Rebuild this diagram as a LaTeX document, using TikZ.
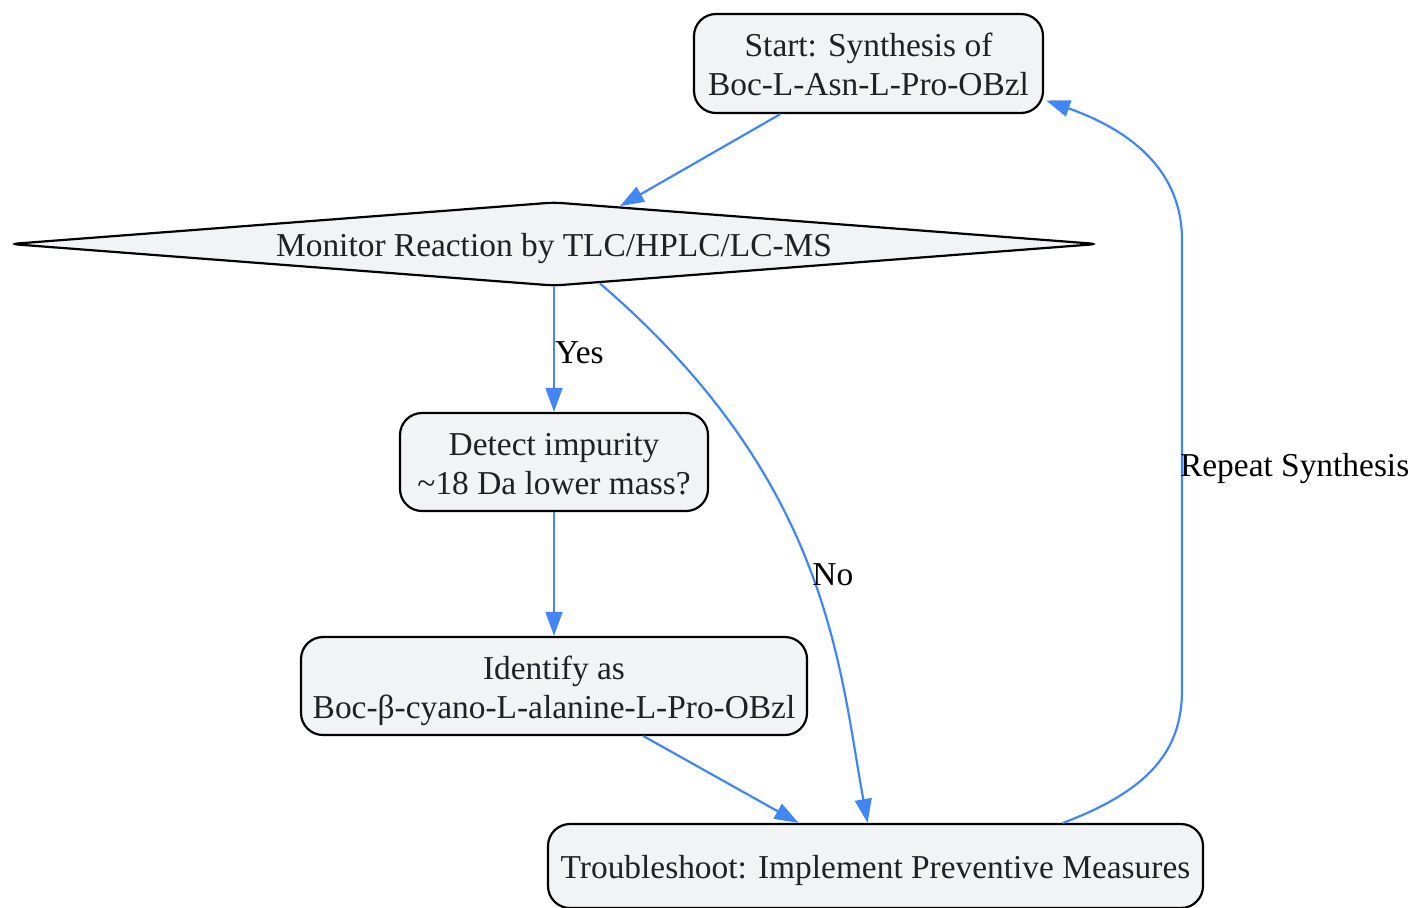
\documentclass[tikz,border=0pt]{standalone}
\usepackage{fontspec}
\setmainfont{Liberation Serif}
\usetikzlibrary{shapes.geometric,arrows.meta,calc}
\definecolor{nodefill}{HTML}{F1F3F4}
\definecolor{nodetext}{HTML}{202124}
\definecolor{edgeblue}{HTML}{4285F4}
\newcommand{\topstrut}{\rule{0pt}{17pt}}
\newcommand{\botstrut}{\rule[-4.5pt]{0pt}{4.5pt}}

\tikzstyle{stepbox}=[rectangle,
                     draw,
                     rounded corners=11pt,
                     fill=nodefill,
                     text=nodetext,
                     line width=1.1pt,
                     inner sep=0pt,
                     align=center,
                     font=\fontsize{16.7}{19.5}\selectfont]
\tikzstyle{checkbox}=[diamond,
                      draw,
                      aspect=13,
                      rounded corners=4pt,
                      fill=nodefill,
                      text=nodetext,
                      line width=1.1pt,
                      inner sep=0pt,
                      text height=12.5pt,
                      text depth=0pt,
                      font=\fontsize{16.7}{19.5}\selectfont]
\tikzstyle{flow}=[draw=edgeblue,
                  line width=1.1pt,
                  -{Triangle[length=12pt,width=8.4pt]}]
\tikzstyle{flowlabel}=[text=black,
                       inner sep=0pt,
                       anchor=west,
                       text height=11pt,
                       text depth=0pt,
                       font=\fontsize{16.7}{19.5}\selectfont]

\begin{document}
\begin{tikzpicture}[x=0.5pt,y=-0.5pt]
    \useasboundingbox (0,0) rectangle (1412,907);

    \node [stepbox, minimum width=174.5pt, minimum height=49.5pt] (start) at (868.5,63.5)
        {\topstrut Start: Synthesis of\\Boc-L-Asn-L-Pro-OBzl\botstrut};
    \node [checkbox, minimum width=544pt, minimum height=42pt] (monitor) at (554,244)
        {Monitor Reaction by TLC/HPLC/LC-MS};
    \node [stepbox, minimum width=154pt, minimum height=49pt] (detect) at (554,462)
        {\topstrut Detect impurity\\\textasciitilde18 Da lower mass?\botstrut};
    \node [stepbox, minimum width=253pt, minimum height=49pt] (identify) at (554,686)
        {\topstrut Identify as\\Boc-β-cyano-L-alanine-L-Pro-OBzl\botstrut};
    \node [stepbox, minimum width=327.5pt, minimum height=42pt] (trouble) at (875.5,866)
        {\topstrut Troubleshoot: Implement Preventive Measures\botstrut};

    \draw [flow] (start) -- (monitor);
    \draw [flow] (monitor) -- node [flowlabel, yshift=-1.3pt] {Yes} (detect);
    \draw [flow] (monitor) .. controls (830,481) and (839,667) .. node [flowlabel, pos=0.51] {No} (trouble);
    \draw [flow] (detect) -- (identify);
    \draw [flow] (identify) -- (trouble);
    \draw [flow] ($(trouble.north)+(187.5,0)$) .. controls (1150,790) and (1182,750) .. (1182,690)
        -- node [flowlabel, xshift=-1.5pt] {Repeat Synthesis} (1182,240)
        .. controls (1182,170) and (1130,130) .. ($(start.east)+(2,37)$);
\end{tikzpicture}
\end{document}
